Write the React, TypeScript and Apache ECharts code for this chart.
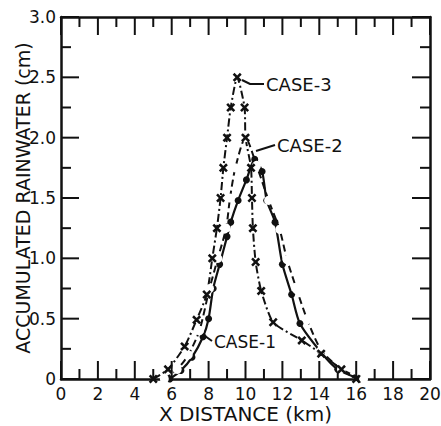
import React, { useEffect, useRef } from "react";
import * as echarts from "echarts";

// Case 1: solid line, filled dots
const case1X = [5.9, 6.5, 7.1, 7.7, 8.0, 8.25, 8.6, 9.0, 9.2, 9.6, 10.05, 10.5, 10.9, 11.15, 11.6, 12.0, 12.5, 12.95, 14.1, 15.0, 16.2];
const case1Y = [0, 0.07, 0.18, 0.35, 0.5, 0.75, 0.95, 1.18, 1.3, 1.48, 1.65, 1.82, 1.72, 1.48, 1.3, 0.95, 0.7, 0.46, 0.22, 0.08, 0];
// Case 2: dashed line, open circles
const case2X = [5.6, 6.3, 6.9, 7.5, 8.05, 8.5, 8.95, 9.16, 9.45, 10.0, 10.6, 11.25, 11.85, 12.25, 12.78, 13.35, 14.1, 15.2, 16.4];
const case2Y = [0, 0.08, 0.2, 0.4, 0.75, 1.0, 1.25, 1.5, 1.75, 2.0, 1.77, 1.48, 1.24, 0.99, 0.74, 0.49, 0.24, 0.08, 0];
// Case 3: dash-dot line, x markers
const case3X = [5.0, 5.8, 6.7, 7.35, 7.9, 8.2, 8.45, 8.65, 8.8, 9.0, 9.2, 9.55, 9.95, 10.0, 10.3, 10.35, 10.4, 10.55, 10.85, 11.5, 13.05, 14.1, 15.2, 16.0];
const case3Y = [0, 0.08, 0.27, 0.49, 0.7, 1.0, 1.25, 1.5, 1.75, 2.0, 2.25, 2.5, 2.25, 2.0, 1.75, 1.5, 1.25, 0.97, 0.73, 0.47, 0.32, 0.21, 0.08, 0];

const caseNames = ["CASE-1", "CASE-2", "CASE-3"];
// axis ticks (major ticks are labelled)
const xMajorTicks = [0, 2, 4, 6, 8, 10, 12, 14, 16, 18, 20];
const xMinorTicks = [1, 3, 5, 7, 9, 11, 13, 15, 17, 19];
const yMajorTicks = [0, 0.5, 1.0, 1.5, 2.0, 2.5, 3.0];
const yMinorTicks = [0.25, 0.75, 1.25, 1.75, 2.25, 2.75];

const FONT = "DejaVu Sans";
const INK = "#111";
const X_MARK = "path://M2,0 L5,3 L8,0 L10,2 L7,5 L10,8 L8,10 L5,7 L2,10 L0,8 L3,5 L0,2 Z";
const MAJOR_LEN = 18;
const MINOR_LEN = 10;

const zip = (xs: number[], ys: number[]) => xs.map((x, i) => [x, ys[i]]);

export default function App() {
  const ref = useRef<HTMLDivElement>(null);
  useEffect(() => {
    if (!ref.current) return;
    const chart = echarts.init(ref.current, null, { renderer: "svg" });
    const axisLine = { show: true, onZero: false, lineStyle: { color: INK, width: 2.5 } };

    // tick items: [value, kind] kind 0: x major, 1: x minor, 2: y major, 3: y minor
    const tickData = [
      ...xMajorTicks.map((v) => [v, 0]),
      ...xMinorTicks.map((v) => [v, 1]),
      ...yMajorTicks.map((v) => [v, 2]),
      ...yMinorTicks.map((v) => [v, 3]),
    ];

    chart.setOption({
      animation: false,
      backgroundColor: "#fff",
      grid: { left: 61, right: 11, top: 17, bottom: 47, containLabel: false, outerBoundsMode: "none" },
      xAxis: [
        {
          type: "value",
          min: 0,
          max: 20,
          interval: 2,
          position: "bottom",
          axisLine,
          axisTick: { show: false },
          splitLine: { show: false },
          axisLabel: {
            color: INK,
            fontFamily: FONT,
            fontSize: 17,
            margin: 6,
            hideOverlap: false,
            formatter: (v: number) => (xMajorTicks.includes(v) ? String(v) : ""),
          },
          name: "X DISTANCE (km)",
          nameLocation: "middle",
          nameGap: 25,
          nameMoveOverlap: false,
          nameTextStyle: { color: INK, fontFamily: FONT, fontSize: 20 },
        },
        {
          type: "value",
          min: 0,
          max: 20,
          interval: 2,
          position: "top",
          axisLine,
          axisTick: { show: false },
          splitLine: { show: false },
          axisLabel: { show: false },
        },
      ],
      yAxis: [
        {
          type: "value",
          min: 0,
          max: 3,
          interval: 0.5,
          position: "left",
          axisLine,
          axisTick: { show: false },
          splitLine: { show: false },
          axisLabel: {
            color: INK,
            fontFamily: FONT,
            fontSize: 17,
            margin: 5,
            formatter: (v: number) => (yMajorTicks.includes(v) ? (v === 0 ? "0" : v.toFixed(1)) : ""),
          },
          name: "ACCUMULATED RAINWATER (cm)",
          nameLocation: "middle",
          nameGap: 29,
          nameMoveOverlap: false,
          nameRotate: 90,
          nameTextStyle: { color: INK, fontFamily: FONT, fontSize: 19 },
        },
        {
          type: "value",
          min: 0,
          max: 3,
          interval: 0.5,
          position: "right",
          axisLine,
          axisTick: { show: false },
          splitLine: { show: false },
          axisLabel: { show: false },
        },
      ],
      series: [
        {
          name: "ticks",
          type: "custom",
          xAxisIndex: 0,
          yAxisIndex: 0,
          clip: false,
          silent: true,
          data: tickData,
          renderItem: (params: any, api: any) => {
            const v = api.value(0);
            const kind = api.value(1);
            const style = { stroke: INK, lineWidth: 2 };
            if (kind === 0 || kind === 1) {
              const len = kind === 0 ? MAJOR_LEN : MINOR_LEN;
              const b = api.coord([v, 0]);
              const t = api.coord([v, 3]);
              return {
                type: "group",
                children: [
                  { type: "line", shape: { x1: b[0], y1: b[1], x2: b[0], y2: b[1] - len }, style },
                  { type: "line", shape: { x1: t[0], y1: t[1], x2: t[0], y2: t[1] + len }, style },
                ],
              };
            }
            const len = kind === 2 ? MAJOR_LEN : MINOR_LEN;
            const l = api.coord([0, v]);
            const r = api.coord([20, v]);
            return {
              type: "group",
              children: [
                { type: "line", shape: { x1: l[0], y1: l[1], x2: l[0] + len, y2: l[1] }, style },
                { type: "line", shape: { x1: r[0], y1: r[1], x2: r[0] - len, y2: r[1] }, style },
              ],
            };
          },
        },
        {
          name: caseNames[0],
          type: "line",
          data: zip(case1X, case1Y),
          smooth: 0.25,
          symbol: "circle",
          symbolSize: 7,
          itemStyle: { color: INK },
          lineStyle: { color: INK, width: 2.2, type: "solid" },
        },
        {
          name: caseNames[1],
          type: "line",
          data: zip(case2X, case2Y),
          smooth: 0.25,
          symbol: "emptyCircle",
          symbolSize: 7,
          itemStyle: { color: "#fff", borderColor: INK, borderWidth: 2 },
          lineStyle: { color: INK, width: 2, type: [7, 4] },
        },
        {
          name: caseNames[2],
          type: "line",
          data: zip(case3X, case3Y),
          smooth: 0.2,
          symbol: X_MARK,
          symbolSize: 9,
          itemStyle: { color: INK },
          lineStyle: { color: INK, width: 2, type: [8, 3, 2, 3] },
        },
      ],
      graphic: [
        { type: "text", left: 266, top: 75, style: { text: caseNames[2], fill: INK, font: `18px '${FONT}'` } },
        { type: "polyline", shape: { points: [[264, 84], [250, 84], [242, 80]] }, style: { stroke: INK, lineWidth: 2, fill: "none" } },
        { type: "text", left: 277, top: 136, style: { text: caseNames[1], fill: INK, font: `18px '${FONT}'` } },
        { type: "line", shape: { x1: 275, y1: 145, x2: 256, y2: 151 }, style: { stroke: INK, lineWidth: 2 } },
        { type: "text", left: 214, top: 333, style: { text: caseNames[0], fill: INK, font: `17px '${FONT}'` } },
        { type: "line", shape: { x1: 212, y1: 341, x2: 205, y2: 336 }, style: { stroke: INK, lineWidth: 2 } },
      ],
    });
    return () => chart.dispose();
  }, []);
  return (
    <div
      ref={ref}
      style={{ position: "fixed", left: 0, top: 0, width: 441, height: 426, overflow: "hidden" }}
    />
  );
}
